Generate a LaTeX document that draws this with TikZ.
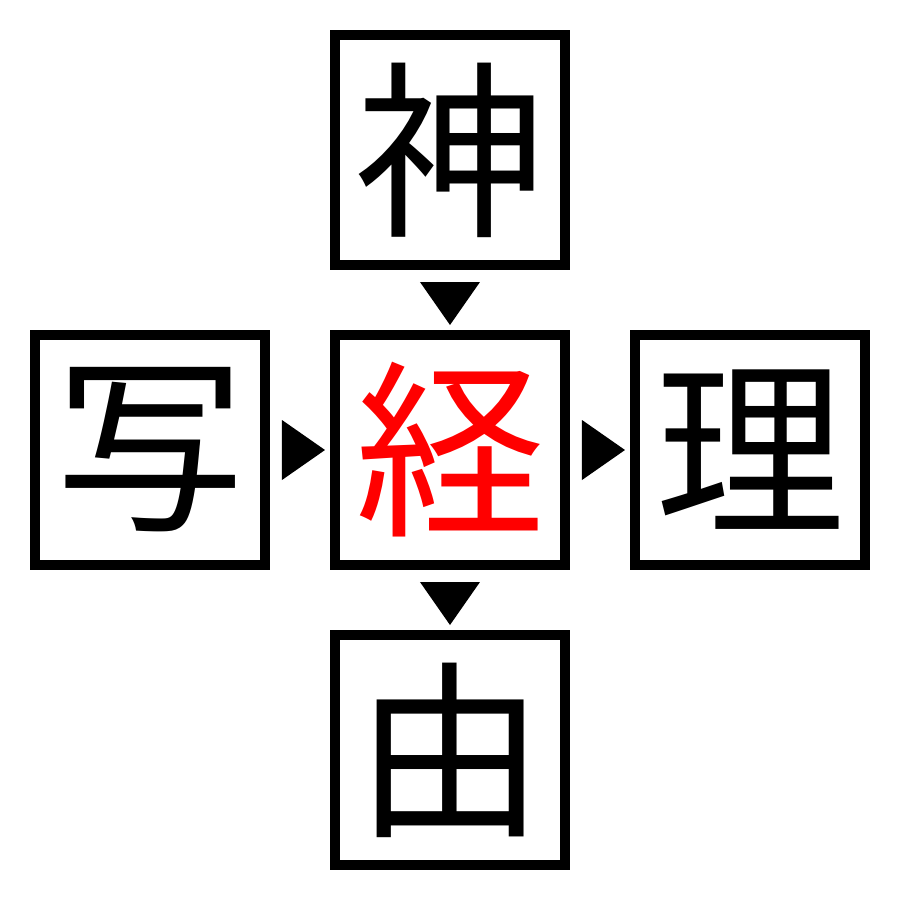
\documentclass[tikz,border=0pt]{standalone}
\usepackage{fontspec}
\newfontfamily\cjk{Noto Sans CJK JP}
\usetikzlibrary{positioning,calc}
\tikzset{
  kanji/.style={draw, line width=0.1cm, minimum size=2.3cm, inner sep=0pt,
    font=\cjk\fontsize{54}{54}\selectfont},
  pointer/.style={fill=black}
}
\begin{document}
\begin{tikzpicture}
            \useasboundingbox (-4.5,-4.5) rectangle (4.5,4.5);
            % the middle one and its four neighbours
            \node[kanji, text=red] (kei) at (0,0) {経};
            \node[kanji] (kami) [above=0.6cm of kei] {神};
            \node[kanji] (sha) [left=0.6cm of kei] {写};
            \node[kanji] (ri) [right=0.6cm of kei] {理};
            \node[kanji] (yu) [below=0.6cm of kei] {由};
            % triangles in the gaps
            \fill[pointer] ($(kami.south)+(-0.3,-0.12)$) -- ($(kami.south)+(0.3,-0.12)$) -- ($(kei.north)+(0,0.05)$) -- cycle;
            \fill[pointer] ($(sha.east)+(0.12,0.3)$) -- ($(sha.east)+(0.12,-0.3)$) -- ($(kei.west)+(-0.05,0)$) -- cycle;
            \fill[pointer] ($(kei.east)+(0.12,0.3)$) -- ($(kei.east)+(0.12,-0.3)$) -- ($(ri.west)+(-0.05,0)$) -- cycle;
            \fill[pointer] ($(kei.south)+(-0.3,-0.12)$) -- ($(kei.south)+(0.3,-0.12)$) -- ($(yu.north)+(0,0.05)$) -- cycle;
\end{tikzpicture}
\end{document}
